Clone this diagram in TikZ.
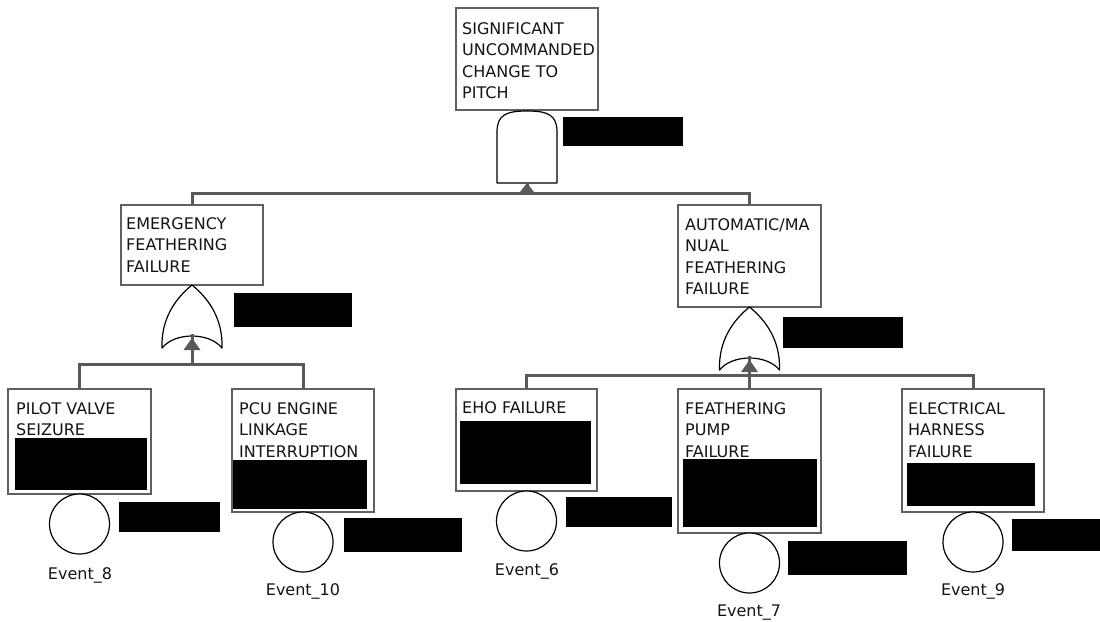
\documentclass[tikz,border=0pt]{standalone}
\usepackage{fontspec}
\setmainfont{DejaVu Sans}
\usetikzlibrary{fit}
\definecolor{wire}{HTML}{595959}
\definecolor{frame}{HTML}{606060}
\begin{document}
\begin{tikzpicture}[x=1pt,y=-1pt,
  evbox/.style={draw=frame, line width=1.3pt, fill=white, inner sep=0pt},
  redact/.style={fill=black, draw=none, inner sep=0pt},
  lbl/.style={inner sep=0pt, anchor=north west, align=left, text=black!92,
    font=\fontsize{16}{21.5}\selectfont},
  evname/.style={inner sep=0pt, anchor=north, text=black!92, font=\fontsize{16}{19}\selectfont},
  evcirc/.style={circle, draw=black, line width=1.2pt, fill=white, minimum size=60pt, inner sep=0pt},
  gate/.style={draw=black, line width=1.2pt, fill=white, line join=round},
  conn/.style={draw=wire, line width=3pt},
  arrowhead/.style={fill=wire}
]
\useasboundingbox (0,0) rectangle (1100,621);

% ---- event boxes ----
\node[evbox, fit={(456,8) (598,110)}] (top) {};
\node[evbox, fit={(121,205) (263,285)}] (emerg) {};
\node[evbox, fit={(678,205) (821,307)}] (auto) {};
\node[evbox, fit={(8,389) (151,494)}] (pilot) {};
\node[evbox, fit={(232,389) (374,512)}] (pcu) {};
\node[evbox, fit={(456,389) (597,491)}] (eho) {};
\node[evbox, fit={(678,389) (821,533)}] (pump) {};
\node[evbox, fit={(902,389) (1044,512)}] (elec) {};

% ---- gate inputs and buses ----
\coordinate (andin) at (527,183);
\coordinate (busT) at (527,193);
\coordinate (orLin) at (192,338);
\coordinate (busL) at (192,364);
\coordinate (orRin) at (749.5,360);
\coordinate (busR) at (749.5,375);

% ---- connectors ----
\draw[conn] (busT) -| (emerg.north);
\draw[conn] (busT) -| (auto.north);
\draw[conn] (busL) -| (pilot.north);
\draw[conn] (busL) -| (pcu.north);
\draw[conn] (busR) -| (eho.north);
\draw[conn] (busR) -- (pump.north);
\draw[conn] (busR) -| (elec.north);

% ---- gates ----
% AND gate under the top event
\draw[gate] (497,183) -- (497,132) .. controls (497,115) and (506,111) .. (527,111)
  .. controls (548,111) and (557,115) .. (557,132) -- (557,183) -- cycle;
% OR gate under EMERGENCY FEATHERING FAILURE
\draw[gate] (162,348) .. controls (161,318) and (176,298) .. (192,285)
  .. controls (208,298) and (223,318) .. (222,348)
  .. controls (209,332) and (175,332) .. (162,348) -- cycle;
% OR gate under AUTOMATIC/MANUAL FEATHERING FAILURE
\begin{scope}[shift={(557.5,22)}]
\draw[gate] (162,348) .. controls (161,318) and (176,298) .. (192,285)
  .. controls (208,298) and (223,318) .. (222,348)
  .. controls (209,332) and (175,332) .. (162,348) -- cycle;
\end{scope}

% ---- arrows into the gates ----
\draw[conn] (busT) -- (andin);
\fill[arrowhead] (andin) -- ++(-8.5,11) -- ++(17,0) -- cycle;
\draw[conn] (busL) -- ([yshift=4pt]orLin);
\fill[arrowhead] (orLin) -- ++(-8.5,12) -- ++(17,0) -- cycle;
\draw[conn] (busR) -- ([yshift=4pt]orRin);
\fill[arrowhead] (orRin) -- ++(-8.5,12) -- ++(17,0) -- cycle;

% ---- event texts ----
\node[lbl] (t-top) at (462,22) {SIGNIFICANT\\UNCOMMANDED\\CHANGE TO\\PITCH};
\node[lbl] (t-emerg) at (126,217) {EMERGENCY\\FEATHERING\\FAILURE};
\node[lbl] (t-auto) at (685,218) {AUTOMATIC/MA\\NUAL\\FEATHERING\\FAILURE};
\node[lbl] (t-pilot) at (16,402) {PILOT VALVE\\SEIZURE};
\node[lbl] (t-pcu) at (239,402) {PCU ENGINE\\LINKAGE\\INTERRUPTION};
\node[lbl] (t-eho) at (462,401) {EHO FAILURE};
\node[lbl] (t-pump) at (685,402) {FEATHERING\\PUMP\\FAILURE};
\node[lbl] (t-elec) at (908,402) {ELECTRICAL\\HARNESS\\FAILURE};

% ---- blacked-out fields ----
\node[redact, fit={(563,117) (683,146)}] (r-and) {};
\node[redact, fit={(234,293) (352,327)}] (r-orL) {};
\node[redact, fit={(783,317) (903,348)}] (r-orR) {};
\node[redact, fit={(15,438) (147,490)}] (r-pilot) {};
\node[redact, fit={(233,460) (367,509)}] (r-pcu) {};
\node[redact, fit={(460,421) (591,484)}] (r-eho) {};
\node[redact, fit={(683,459) (817,527)}] (r-pump) {};
\node[redact, fit={(907,463) (1035,506)}] (r-elec) {};
\node[redact, fit={(119,502) (220,532)}] (r-e8) {};
\node[redact, fit={(344,518) (462,552)}] (r-e10) {};
\node[redact, fit={(566,497) (672,527)}] (r-e6) {};
\node[redact, fit={(788,541) (907,575)}] (r-e7) {};
\node[redact, fit={(1012,519) (1100,551)}] (r-e9) {};

% ---- basic events ----
\node[evcirc] (c8) at (79.5,524) {};
\node[evcirc] (c10) at (303,542) {};
\node[evcirc] (c6) at (526.5,521) {};
\node[evcirc] (c7) at (749.5,563) {};
\node[evcirc] (c9) at (973,542) {};

\node[evname] (n8) at (80,567) {Event\_8};
\node[evname] (n10) at (303,583) {Event\_10};
\node[evname] (n6) at (527,563) {Event\_6};
\node[evname] (n7) at (749,605) {Event\_7};
\node[evname] (n9) at (973,583) {Event\_9};
\end{tikzpicture}
\end{document}
